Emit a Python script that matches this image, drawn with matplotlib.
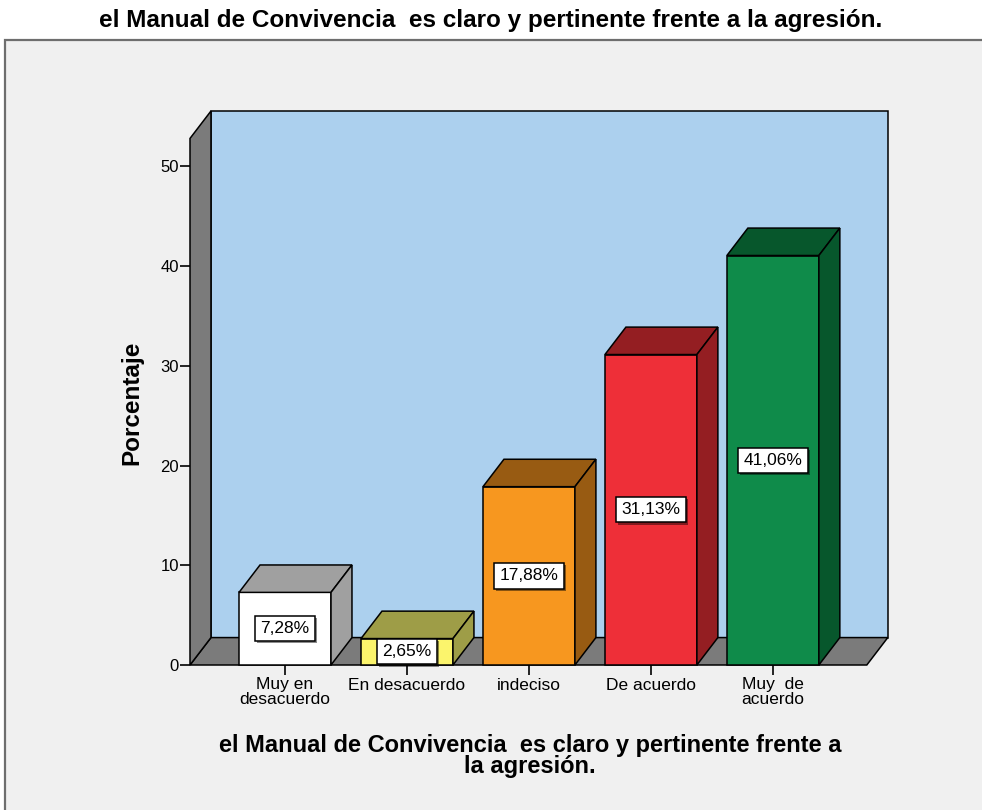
import matplotlib
matplotlib.use("Agg")
import matplotlib.pyplot as plt
import matplotlib.patheffects as pe
from matplotlib.patches import Polygon, Rectangle

plt.rcParams['font.family'] = ['Liberation Sans', 'DejaVu Sans']

# Data
categorias = ["Muy en\ndesacuerdo", "En desacuerdo", "indeciso", "De acuerdo", "Muy  de\nacuerdo"]
porcentajes = [7.28, 2.65, 17.88, 31.13, 41.06]
etiquetas = ["7,28%", "2,65%", "17,88%", "31,13%", "41,06%"]
y_ticks = [0, 10, 20, 30, 40, 50]

titulo = "el Manual de Convivencia  es claro y pertinente frente a la agresión."
titulo_x = "el Manual de Convivencia  es claro y pertinente frente a\nla agresión."

# Colours: front face, top/side face
frente = ["#ffffff", "#fbf46c", "#f7971f", "#ee2f38", "#0f8b4a"]
lado = ["#a0a0a0", "#9e9d47", "#985b12", "#941e22", "#07572c"]

# 3D look
w = 0.754          # bar width
dx, dy = 0.172, 2.75   # depth offset
x0, x1 = -0.779, 4.77  # floor front edge
top = 52.8

fig = plt.figure(figsize=(9.82, 8.10), dpi=100)
fig.patch.set_facecolor("white")

# Framed background of the chart area
fig.patches.append(Rectangle((5 / 982, -0.01), 1.0, 1 - 40 / 810 + 0.01,
                             transform=fig.transFigure, facecolor="#f0f0f0",
                             edgecolor="#6e6e6e", linewidth=1.6, zorder=-5))

ax = fig.add_axes([190 / 982, 1 - 665 / 810, 699 / 982, 554 / 810])
ax.set_zorder(3)
ax.set_xlim(x0, x1 + dx + 0.01)
ax.set_ylim(0, top + dy)
ax.patch.set_alpha(0)
for s in ax.spines.values():
    s.set_visible(False)

lw = 1.1
# back wall
ax.add_patch(Polygon([(x0 + dx, dy), (x1 + dx, dy), (x1 + dx, top + dy), (x0 + dx, top + dy)],
                     closed=True, facecolor="#acd0ee", edgecolor="black", lw=lw, clip_on=False))
# floor
ax.add_patch(Polygon([(x0, 0), (x1, 0), (x1 + dx, dy), (x0 + dx, dy)],
                     closed=True, facecolor="#7b7b7b", edgecolor="black", lw=lw, clip_on=False))
# left wall
ax.add_patch(Polygon([(x0, 0), (x0 + dx, dy), (x0 + dx, top + dy), (x0, top)],
                     closed=True, facecolor="#7b7b7b", edgecolor="black", lw=lw, clip_on=False))

for i, v in enumerate(porcentajes):
    a, b = i - w / 2, i + w / 2
    ax.add_patch(Polygon([(a, 0), (b, 0), (b, v), (a, v)], closed=True,
                         facecolor=frente[i], edgecolor="black", lw=lw, clip_on=False))
    ax.add_patch(Polygon([(a, v), (b, v), (b + dx, v + dy), (a + dx, v + dy)], closed=True,
                         facecolor=lado[i], edgecolor="black", lw=lw, clip_on=False))
    ax.add_patch(Polygon([(b, 0), (b + dx, dy), (b + dx, v + dy), (b, v)], closed=True,
                         facecolor=lado[i], edgecolor="black", lw=lw, clip_on=False))
    t = ax.text(i, v / 2, etiquetas[i], ha="center", va="center", fontsize=12.5, zorder=5,
                bbox=dict(boxstyle="square,pad=0.3", facecolor="white", edgecolor="black", lw=1.1))
    # small drop shadow like SPSS labels
    t.get_bbox_patch().set_path_effects([
        pe.SimplePatchShadow(offset=(1.5, -1.5), shadow_rgbFace="black", alpha=0.45),
        pe.Normal()])

ax.set_yticks(y_ticks)
ax.set_yticklabels([str(t) for t in y_ticks], fontsize=12)
ax.set_xticks(range(len(categorias)))
ax.set_xticklabels(categorias, fontsize=12.5, linespacing=0.95)
ax.tick_params(axis="both", direction="out", length=7, width=1.2, color="black")
ax.tick_params(axis="x", pad=2)
ax.tick_params(axis="y", pad=1)

fig.text(132 / 982, 1 - 403 / 810, "Porcentaje", rotation=90, ha="center", va="center",
         fontsize=17.5, fontweight="bold")
fig.text(0.5, 1 - 20 / 810, titulo, ha="center", va="center", fontsize=17.5, fontweight="bold")
fig.text(530 / 982, 1 - 756 / 810, titulo_x, ha="center", va="center", fontsize=17,
         fontweight="bold", linespacing=0.9)

fig.savefig("out.png", dpi=100)
